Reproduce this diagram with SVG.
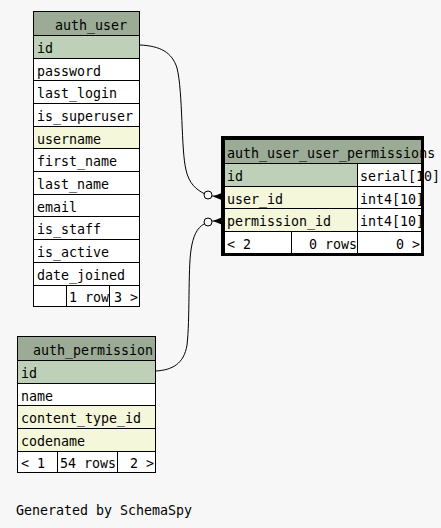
<svg xmlns="http://www.w3.org/2000/svg" width="441" height="528" viewBox="0 0 441 528">
  <style>
    text { font-family: "DejaVu Sans Mono", "Liberation Mono", monospace; font-size: 13.3px; fill: #000; }
    .cell { stroke: #000; stroke-width: 1; shape-rendering: crispEdges; }
    .head { fill: #9bab96; }
    .pk { fill: #bed1b8; }
    .idx { fill: #f4f7da; }
    .plain { fill: #ffffff; }
    .edge { fill: none; stroke: #000; stroke-width: 1; }
    .r { text-anchor: end; }
  </style>
  <rect width="441" height="528" fill="#f7f7f7"/>

  <!-- auth_user -->
  <g id="auth_user">
    <rect class="cell head" x="33.5" y="11.5" width="106" height="24"/>
    <rect class="cell pk" x="33.5" y="35.5" width="106" height="23"/>
    <rect class="cell plain" x="33.5" y="58.5" width="106" height="22"/>
    <rect class="cell plain" x="33.5" y="80.5" width="106" height="23"/>
    <rect class="cell plain" x="33.5" y="103.5" width="106" height="23"/>
    <rect class="cell idx" x="33.5" y="126.5" width="106" height="22"/>
    <rect class="cell plain" x="33.5" y="148.5" width="106" height="23"/>
    <rect class="cell plain" x="33.5" y="171.5" width="106" height="23"/>
    <rect class="cell plain" x="33.5" y="194.5" width="106" height="22"/>
    <rect class="cell plain" x="33.5" y="216.5" width="106" height="23"/>
    <rect class="cell plain" x="33.5" y="239.5" width="106" height="23"/>
    <rect class="cell plain" x="33.5" y="262.5" width="106" height="23"/>
    <rect class="cell plain" x="33.5" y="285.5" width="106" height="21"/>
    <line class="cell" x1="66.5" y1="285.5" x2="66.5" y2="306.5"/>
    <line class="cell" x1="109.5" y1="285.5" x2="109.5" y2="306.5"/>
    <text x="55" y="30">auth_user</text>
    <text x="37" y="53">id</text>
    <text x="37" y="76">password</text>
    <text x="37" y="98">last_login</text>
    <text x="37" y="121">is_superuser</text>
    <text x="37" y="144">username</text>
    <text x="37" y="166">first_name</text>
    <text x="37" y="189">last_name</text>
    <text x="37" y="212">email</text>
    <text x="37" y="234">is_staff</text>
    <text x="37" y="257">is_active</text>
    <text x="37" y="280">date_joined</text>
    <text x="69" y="302">1 row</text>
    <text class="r" x="138" y="302">3 &gt;</text>
  </g>

  <!-- auth_user_user_permissions -->
  <g id="auth_user_user_permissions">
    <rect class="cell head" x="224.5" y="139.5" width="197" height="24"/>
    <rect class="cell pk" x="224.5" y="163.5" width="133" height="23"/>
    <rect class="cell plain" x="357.5" y="163.5" width="64" height="23"/>
    <rect class="cell idx" x="224.5" y="186.5" width="133" height="22"/>
    <rect class="cell plain" x="357.5" y="186.5" width="64" height="22"/>
    <rect class="cell idx" x="224.5" y="208.5" width="133" height="23"/>
    <rect class="cell plain" x="357.5" y="208.5" width="64" height="23"/>
    <rect class="cell plain" x="224.5" y="231.5" width="197" height="22"/>
    <line class="cell" x1="291.5" y1="231.5" x2="291.5" y2="253.5"/>
    <line class="cell" x1="357.5" y1="231.5" x2="357.5" y2="253.5"/>
    <text x="227" y="158">auth_user_user_permissions</text>
    <text x="227" y="181">id</text>
    <text x="360" y="181">serial[10]</text>
    <text x="227" y="204">user_id</text>
    <text x="360" y="204">int4[10]</text>
    <text x="227" y="226">permission_id</text>
    <text x="360" y="226">int4[10]</text>
    <text x="227" y="249">&lt; 2</text>
    <text class="r" x="357" y="249">0 rows</text>
    <text class="r" x="420" y="249">0 &gt;</text>
    <rect x="222.5" y="137.5" width="200" height="117" fill="none" stroke="#000" stroke-width="3"/>
  </g>

  <!-- auth_permission -->
  <g id="auth_permission">
    <rect class="cell head" x="17.5" y="336.5" width="138" height="24"/>
    <rect class="cell pk" x="17.5" y="360.5" width="138" height="23"/>
    <rect class="cell plain" x="17.5" y="383.5" width="138" height="22"/>
    <rect class="cell idx" x="17.5" y="405.5" width="138" height="23"/>
    <rect class="cell idx" x="17.5" y="428.5" width="138" height="23"/>
    <rect class="cell plain" x="17.5" y="451.5" width="138" height="21"/>
    <line class="cell" x1="57.5" y1="451.5" x2="57.5" y2="472.5"/>
    <line class="cell" x1="117.5" y1="451.5" x2="117.5" y2="472.5"/>
    <text x="33" y="355">auth_permission</text>
    <text x="21" y="378">id</text>
    <text x="21" y="401">name</text>
    <text x="21" y="423">content_type_id</text>
    <text x="21" y="446">codename</text>
    <text x="21" y="468">&lt; 1</text>
    <text x="60" y="468">54 rows</text>
    <text class="r" x="154" y="468">2 &gt;</text>
  </g>

  <!-- relationships -->
  <g id="connectors">
    <path class="edge" d="M140,45 C160,46 172,52 177,68 C183,92 181,150 186,170 C189,184 197,190 204,193.5"/>
    <circle class="edge" cx="208" cy="195" r="4"/>
    <line class="edge" x1="212" y1="196" x2="224" y2="196"/>
    <polygon points="213,196.5 224,192 224,201" fill="#000"/>

    <path class="edge" d="M156,371 C172,370 184,364 187,345 C190,320 188,270 191,250 C193,236 197,228 204,224"/>
    <circle class="edge" cx="208" cy="222" r="4"/>
    <line class="edge" x1="212" y1="221" x2="224" y2="221"/>
    <polygon points="213,221 224,216.5 224,225.5" fill="#000"/>
  </g>

  <text x="16" y="515">Generated by SchemaSpy</text>
</svg>
